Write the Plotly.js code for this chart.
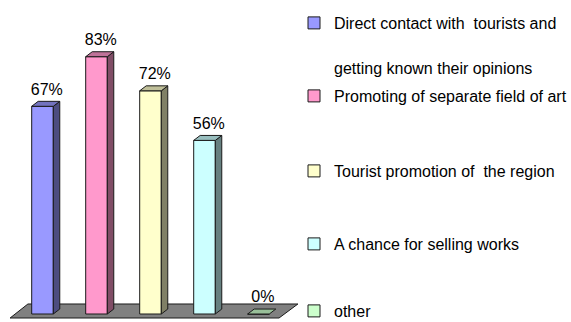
<!DOCTYPE html>
<html>
<head>
<meta charset="utf-8">
<script src="https://cdn.plot.ly/plotly-3.0.1.min.js"></script>
<style>html,body{margin:0;padding:0;background:#fff;}#chart{width:571px;height:322px;}</style>
</head>
<body>
<div id="chart"></div>
<script>
// ---- data ----
const categories = ['Direct contact with \u00A0tourists and', 'Promoting of separate field of art', 'Tourist promotion of \u00A0the region', 'A chance for selling works', 'other'];
const categoryContinuation = ['getting known their opinions', '', '', '', ''];
const values = [67, 83, 72, 56, 0];
const valueLabels = ['67%', '83%', '72%', '56%', '0%'];
const frontColors = ['#9999FF', '#FF99CC', '#FFFFCC', '#CCFFFF', '#CCFFCC'];
const sideColors = ['#4D4D80', '#804D66', '#808066', '#668080', '#668066'];
const topColors = ['#7373BF', '#BF7399', '#BFBF99', '#99BFBF', '#99BF99'];

// ---- geometry (style) ----
const W = 571, H = 322;
const BARW = 0.4, DX = 0.12, DY = 1.6, LABEL_GAP = 0.9;
const FONT = 'Liberation Sans, Arial, sans-serif';
const EDGE = '#1a1a1a';

const traces = [];
const legendY = [23, 96, 171, 244, 311];

categories.forEach((name, i) => {
  const v = values[i];
  traces.push({
    type: 'bar', x: [i], y: [v], width: BARW, name: name,
    legend: i === 0 ? 'legend' : 'legend' + (i + 1),
    marker: {color: frontColors[i], line: {color: EDGE, width: 1}},
    hoverinfo: 'skip', showlegend: true
  });
});

categories.forEach((name, i) => {
  const v = values[i];
  const l = i - BARW / 2, r = i + BARW / 2;
  // side face
  if (v > 0) {
    traces.push({
      type: 'scatter', mode: 'lines', fill: 'toself', showlegend: false, hoverinfo: 'skip',
      x: [r, r, r + DX, r + DX, r], y: [0, v, v + DY, DY, 0],
      fillcolor: sideColors[i], line: {color: EDGE, width: 1}
    });
  }
  // top face
  traces.push({
    type: 'scatter', mode: 'lines', fill: 'toself', showlegend: false, hoverinfo: 'skip',
    x: [l, r, r + DX, l + DX, l], y: [v, v, v + DY, v + DY, v],
    fillcolor: topColors[i], line: {color: EDGE, width: 1}
  });
});

traces.push({
  type: 'scatter', mode: 'text', showlegend: false, hoverinfo: 'skip', cliponaxis: false,
  x: categories.map((c, i) => i + DX / 2 + 0.02), y: values.map(v => v + DY + LABEL_GAP),
  text: valueLabels, textposition: 'top center',
  textfont: {family: FONT, size: 16, color: '#000'}
});

const layout = {
  width: W, height: H,
  margin: {l: 0, r: 0, t: 0, b: 0, autoexpand: false},
  paper_bgcolor: '#fff', plot_bgcolor: 'rgba(0,0,0,0)',
  barmode: 'overlay',
  font: {family: FONT, size: 16, color: '#000'},
  xaxis: {range: [-42.5 / 54, (W - 42.5) / 54], visible: false, fixedrange: true},
  yaxis: {range: [-(H - 314) / 3.1, 314 / 3.1], visible: false, fixedrange: true},
  shapes: [{
    type: 'path', layer: 'below', xref: 'x', yref: 'y',
    path: 'M -0.60,-1.29 L 4.38,-1.29 L 4.73,3.23 L -0.27,3.23 Z',
    fillcolor: '#808080', line: {color: EDGE, width: 1}
  }],
  annotations: categoryContinuation.map((t, i) => t ? {
    text: t, showarrow: false, xref: 'paper', yref: 'paper',
    x: 331.5 / W, xanchor: 'left', y: 1 - 68.5 / H, yanchor: 'middle',
    font: {family: FONT, size: 16, color: '#000'}
  } : null).filter(a => a),
  showlegend: true
};
legendY.forEach((py, i) => {
  layout[i === 0 ? 'legend' : 'legend' + (i + 1)] = {
    x: 294 / W, xanchor: 'left', y: 1 - py / H, yanchor: 'middle',
    bgcolor: 'rgba(0,0,0,0)', borderwidth: 0,
    font: {family: FONT, size: 16, color: '#000'}
  };
});

Plotly.newPlot('chart', traces, layout, {staticPlot: true, displayModeBar: false});
</script>
</body>
</html>
